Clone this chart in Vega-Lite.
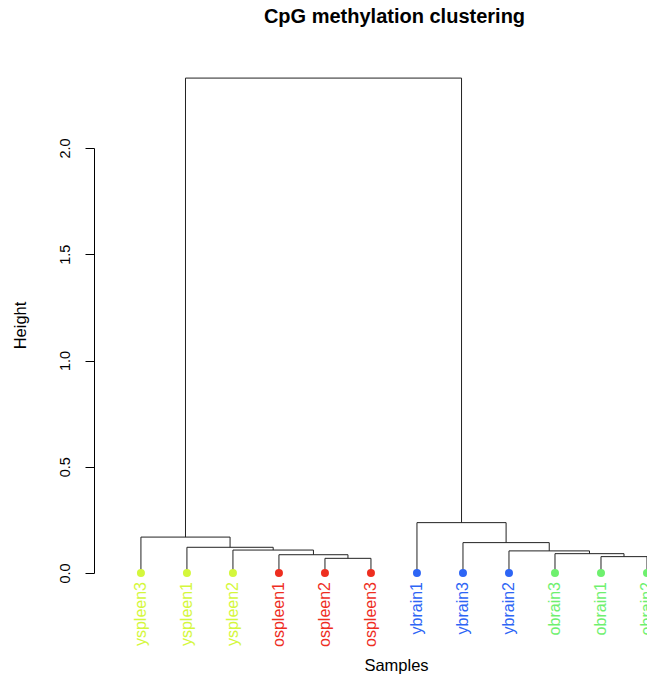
{
  "$schema": "https://vega.github.io/schema/vega-lite/v6.json",
  "width": 553,
  "height": 425,
  "autosize": "none",
  "padding": {"left": 94, "top": 148, "right": 0, "bottom": 101},
  "background": "white",
  "title": {
    "text": "CpG methylation clustering",
    "anchor": "middle",
    "frame": "group",
    "dx": 24,
    "dy": -47,
    "fontSize": 20,
    "fontWeight": "bold",
    "font": "Liberation Sans",
    "color": "black"
  },
  "config": {
    "view": {"stroke": null},
    "font": "Liberation Sans",
    "axis": {"grid": false}
  },
  "datasets": {
    "segments": [
      {"x": 1.96875, "x2": 7.96875, "y": 2.329, "y2": 2.329},
      {"x": 1.96875, "x2": 1.96875, "y": 0.169, "y2": 2.329},
      {"x": 7.96875, "x2": 7.96875, "y": 0.237, "y2": 2.329},
      {"x": 1, "x2": 2.9375, "y": 0.169, "y2": 0.169},
      {"x": 1, "x2": 1, "y": 0, "y2": 0.169},
      {"x": 2.9375, "x2": 2.9375, "y": 0.121, "y2": 0.169},
      {"x": 2, "x2": 3.875, "y": 0.121, "y2": 0.121},
      {"x": 2, "x2": 2, "y": 0, "y2": 0.121},
      {"x": 3.875, "x2": 3.875, "y": 0.108, "y2": 0.121},
      {"x": 3, "x2": 4.75, "y": 0.108, "y2": 0.108},
      {"x": 3, "x2": 3, "y": 0, "y2": 0.108},
      {"x": 4.75, "x2": 4.75, "y": 0.086, "y2": 0.108},
      {"x": 4, "x2": 5.5, "y": 0.086, "y2": 0.086},
      {"x": 4, "x2": 4, "y": 0, "y2": 0.086},
      {"x": 5.5, "x2": 5.5, "y": 0.069, "y2": 0.086},
      {"x": 5, "x2": 6, "y": 0.069, "y2": 0.069},
      {"x": 5, "x2": 5, "y": 0, "y2": 0.069},
      {"x": 6, "x2": 6, "y": 0, "y2": 0.069},
      {"x": 7, "x2": 8.9375, "y": 0.237, "y2": 0.237},
      {"x": 7, "x2": 7, "y": 0, "y2": 0.237},
      {"x": 8.9375, "x2": 8.9375, "y": 0.143, "y2": 0.237},
      {"x": 8, "x2": 9.875, "y": 0.143, "y2": 0.143},
      {"x": 8, "x2": 8, "y": 0, "y2": 0.143},
      {"x": 9.875, "x2": 9.875, "y": 0.104, "y2": 0.143},
      {"x": 9, "x2": 10.75, "y": 0.104, "y2": 0.104},
      {"x": 9, "x2": 9, "y": 0, "y2": 0.104},
      {"x": 10.75, "x2": 10.75, "y": 0.091, "y2": 0.104},
      {"x": 10, "x2": 11.5, "y": 0.091, "y2": 0.091},
      {"x": 10, "x2": 10, "y": 0, "y2": 0.091},
      {"x": 11.5, "x2": 11.5, "y": 0.077, "y2": 0.091},
      {"x": 11, "x2": 12, "y": 0.077, "y2": 0.077},
      {"x": 11, "x2": 11, "y": 0, "y2": 0.077},
      {"x": 12, "x2": 12, "y": 0, "y2": 0.077}
    ],
    "leaves": [
      {"pos": 1, "sample": "yspleen3", "group": "yspleen", "h": 0},
      {"pos": 2, "sample": "yspleen1", "group": "yspleen", "h": 0},
      {"pos": 3, "sample": "yspleen2", "group": "yspleen", "h": 0},
      {"pos": 4, "sample": "ospleen1", "group": "ospleen", "h": 0},
      {"pos": 5, "sample": "ospleen2", "group": "ospleen", "h": 0},
      {"pos": 6, "sample": "ospleen3", "group": "ospleen", "h": 0},
      {"pos": 7, "sample": "ybrain1", "group": "ybrain", "h": 0},
      {"pos": 8, "sample": "ybrain3", "group": "ybrain", "h": 0},
      {"pos": 9, "sample": "ybrain2", "group": "ybrain", "h": 0},
      {"pos": 10, "sample": "obrain3", "group": "obrain", "h": 0},
      {"pos": 11, "sample": "obrain1", "group": "obrain", "h": 0},
      {"pos": 12, "sample": "obrain2", "group": "obrain", "h": 0}
    ]
  },
  "layer": [
    {
      "data": {"name": "segments"},
      "mark": {"type": "rule", "color": "#222222", "strokeWidth": 1},
      "encoding": {
        "x": {
          "field": "x",
          "type": "quantitative",
          "scale": {"domain": [-0.02, 12], "nice": false, "zero": false},
          "axis": {
            "title": "Samples",
            "labels": false,
            "ticks": false,
            "domain": false,
            "titleFontSize": 16.5,
            "titleFontWeight": "normal",
            "titleColor": "black",
            "titleX": 302,
            "titleY": 97,
            "titleAlign": "center",
            "titleBaseline": "alphabetic"
          }
        },
        "x2": {"field": "x2"},
        "y": {
          "field": "y",
          "type": "quantitative",
          "scale": {"domain": [0, 2], "nice": false},
          "axis": {
            "title": "Height",
            "values": [0, 0.5, 1, 1.5, 2],
            "format": ".1f",
            "labelAngle": 270,
            "labelAlign": "center",
            "labelBaseline": "alphabetic",
            "labelPadding": 16,
            "labelFontSize": 14.5,
            "labelColor": "black",
            "tickSize": 9,
            "tickColor": "black",
            "domainColor": "black",
            "titleFontSize": 16.5,
            "titleFontWeight": "normal",
            "titleColor": "black",
            "titleAngle": 270,
            "titleAlign": "center",
            "titleBaseline": "alphabetic",
            "titleX": -69,
            "titleY": 177
          }
        },
        "y2": {"field": "y2"}
      }
    },
    {
      "data": {"name": "leaves"},
      "mark": {"type": "point", "filled": true, "shape": "circle", "size": 64, "opacity": 1},
      "encoding": {
        "x": {"field": "pos", "type": "quantitative"},
        "y": {"field": "h", "type": "quantitative"},
        "color": {
          "field": "group",
          "type": "nominal",
          "scale": {
            "domain": ["yspleen", "ospleen", "ybrain", "obrain"],
            "range": ["#d4f73c", "#ee2e1f", "#2d65f5", "#6ef06e"]
          },
          "legend": null
        }
      }
    },
    {
      "data": {"name": "leaves"},
      "mark": {"type": "text", "angle": 270, "align": "right", "baseline": "middle", "fontSize": 16, "yOffset": 9},
      "encoding": {
        "x": {"field": "pos", "type": "quantitative"},
        "y": {"field": "h", "type": "quantitative"},
        "text": {"field": "sample"},
        "color": {"field": "group", "type": "nominal", "legend": null}
      }
    }
  ]
}
